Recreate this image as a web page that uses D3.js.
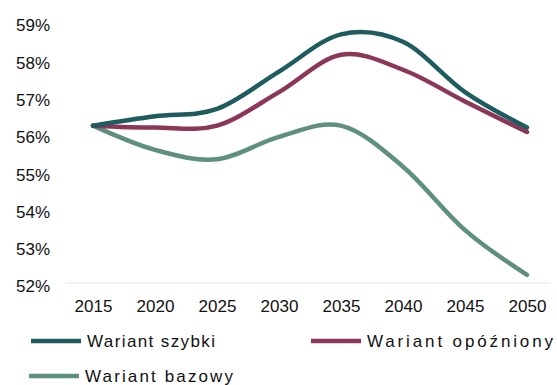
<!DOCTYPE html>
<html>
<head>
<meta charset="utf-8">
<script src="https://cdn.jsdelivr.net/npm/d3@7/dist/d3.min.js"></script>
<style>
  html, body { margin: 0; padding: 0; background: #fff; }
  svg { display: block; }
  text { font-family: "Liberation Sans", Arial, sans-serif; fill: #111; }
</style>
</head>
<body>
<svg id="chart" width="557" height="385"></svg>
<script>
// Share of population by scenario, 2015–2050 (%)
const years = [2015, 2020, 2025, 2030, 2035, 2040, 2045, 2050];
const szybki = [56.3, 56.55, 56.75, 57.75, 58.75, 58.55, 57.2, 56.25];
const opozniony = [56.3, 56.25, 56.3, 57.2, 58.2, 57.8, 56.95, 56.13];
const bazowy = [56.3, 55.65, 55.4, 56.0, 56.3, 55.2, 53.5, 52.3];
const yTicks = [52, 53, 54, 55, 56, 57, 58, 59];

const seriesList = [
  { name: "Wariant szybki", values: szybki, color: "#1f5c60", width: 128 },
  { name: "Wariant opóźniony", values: opozniony, color: "#8c3658", width: 186 },
  { name: "Wariant bazowy", values: bazowy, color: "#5f8f81", width: 148 }
];

const svg = d3.select("#chart");

const x = d3.scalePoint().domain(years).range([93, 527]);
const y = d3.scaleLinear().domain([52, 59]).range([286, 25]);

// faint baseline
svg.append("line")
  .attr("x1", 66).attr("x2", 550)
  .attr("y1", y(52) - 3).attr("y2", y(52) - 3)
  .attr("stroke", "#f2f2f2").attr("stroke-width", 2);

// y axis labels
const yAxis = d3.axisLeft(y).tickValues(yTicks).tickSize(0).tickPadding(0)
  .tickFormat(d => d + "%");
svg.append("g")
  .attr("transform", "translate(50,0)")
  .call(yAxis)
  .call(g => g.select(".domain").remove())
  .call(g => g.selectAll("text")
    .attr("font-size", 17)
    .attr("dy", "0.35em")
    .style("font-family", "'Liberation Sans', Arial, sans-serif")
    .attr("fill", "#111"));

// x axis labels
const xAxis = d3.axisBottom(x).tickSize(0).tickPadding(0);
svg.append("g")
  .attr("transform", "translate(0,300)")
  .call(xAxis)
  .call(g => g.select(".domain").remove())
  .call(g => g.selectAll("text")
    .attr("font-size", 17)
    .attr("dy", "0.71em")
    .style("font-family", "'Liberation Sans', Arial, sans-serif")
    .attr("fill", "#111"));

// smoothed lines
const line = d3.line()
  .x((d, i) => x(years[i]))
  .y(d => y(d))
  .curve(d3.curveCardinal.tension(0));

// draw bazowy first, then opóźniony, then szybki on top
[seriesList[2], seriesList[1], seriesList[0]].forEach(s => {
  svg.append("path")
    .datum(s.values)
    .attr("fill", "none")
    .attr("stroke", s.color)
    .attr("stroke-width", 4.5)
    .attr("stroke-linecap", "round")
    .attr("stroke-linejoin", "round")
    .attr("d", line);
});

// legend
const legendItems = [
  { s: seriesList[0], lx: 31, ly: 341 },
  { s: seriesList[1], lx: 311, ly: 341 },
  { s: seriesList[2], lx: 29, ly: 376 }
];
legendItems.forEach(it => {
  svg.append("line")
    .attr("x1", it.lx).attr("x2", it.lx + 50)
    .attr("y1", it.ly).attr("y2", it.ly)
    .attr("stroke", it.s.color)
    .attr("stroke-width", 4.5);
  svg.append("text")
    .attr("x", it.lx + 56)
    .attr("y", it.ly)
    .attr("dy", "0.35em")
    .attr("font-size", 17)
    .attr("textLength", it.s.width)
    .attr("lengthAdjust", "spacing")
    .text(it.s.name);
});
</script>
</body>
</html>
